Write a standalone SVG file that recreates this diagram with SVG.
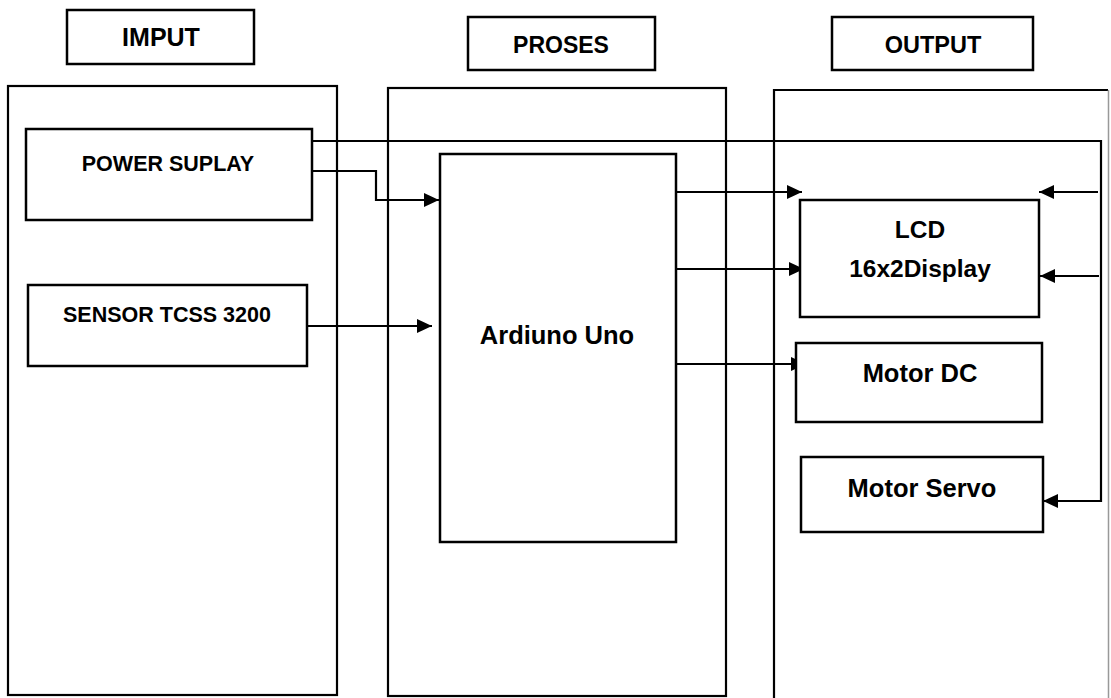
<svg xmlns="http://www.w3.org/2000/svg" width="1111" height="698" viewBox="0 0 1111 698">
<style>
.box{fill:#fff;stroke:#000;stroke-width:2.5}
.panel{fill:none;stroke:#000;stroke-width:2.2}
.ln{fill:none;stroke:#000;stroke-width:2.2}
.t{font-family:"Liberation Sans",Arial,sans-serif;font-weight:bold;fill:#000;text-anchor:middle}
</style>
<defs>
<marker id="ah" viewBox="0 0 15 14" refX="15" refY="7" markerWidth="15" markerHeight="14" markerUnits="userSpaceOnUse" orient="auto">
<path d="M0,0 L15,7 L0,14 Z" fill="#000"/>
</marker>
</defs>
<rect width="1111" height="698" fill="#fff"/>
<g id="panels">
<rect class="panel" x="8" y="86" width="329" height="609"/>
<rect class="panel" x="388" y="88" width="338" height="608"/>
<path class="panel" d="M774,698 V90 H1108"/>
<line x1="1108.5" y1="90" x2="1108.5" y2="698" stroke="#999" stroke-width="1.5"/>
</g>
<g id="hdr-imput">
<rect class="box" x="67" y="10" width="187" height="54"/>
<text class="t" x="161" y="46" font-size="25">IMPUT</text>
</g>
<g id="hdr-proses">
<rect class="box" x="468" y="17" width="187" height="53"/>
<text class="t" x="561" y="53" font-size="23">PROSES</text>
</g>
<g id="hdr-output">
<rect class="box" x="832" y="17" width="201" height="53"/>
<text class="t" x="933" y="53" font-size="23.5">OUTPUT</text>
</g>
<g id="connectors">
<polyline class="ln" points="312,171 376,171 376,200 439,200" marker-end="url(#ah)"/>
<polyline class="ln" points="312,141 1101,141 1101,501 1043,501" marker-end="url(#ah)"/>
<line class="ln" x1="307" y1="326" x2="432" y2="326" marker-end="url(#ah)"/>
<line class="ln" x1="672" y1="192" x2="802" y2="192" marker-end="url(#ah)"/>
<line class="ln" x1="676" y1="269" x2="804" y2="269" marker-end="url(#ah)"/>
<line class="ln" x1="676" y1="364" x2="806" y2="364" marker-end="url(#ah)"/>
<line class="ln" x1="1098" y1="192" x2="1039" y2="192" marker-end="url(#ah)"/>
<line class="ln" x1="1099" y1="276" x2="1040" y2="276" marker-end="url(#ah)"/>
</g>
<g id="power">
<rect class="box" x="26" y="129" width="286" height="91"/>
<text class="t" x="168" y="171" font-size="21.5">POWER SUPLAY</text>
</g>
<g id="sensor">
<rect class="box" x="28" y="285" width="279" height="81"/>
<text class="t" x="167" y="322" font-size="21.5">SENSOR TCSS 3200</text>
</g>
<g id="arduino">
<rect class="box" x="440" y="154" width="236" height="388"/>
<text class="t" x="557" y="344" font-size="25.5">Ardiuno Uno</text>
</g>
<g id="lcd">
<rect class="box" x="800" y="200" width="239" height="117"/>
<text class="t" x="920" y="238" font-size="24.5">LCD</text>
<text class="t" x="920" y="277" font-size="24.5">16x2Display</text>
</g>
<g id="motordc">
<rect class="box" x="796" y="343" width="246" height="79"/>
<text class="t" x="920" y="382" font-size="25.5">Motor DC</text>
</g>
<g id="motorservo">
<rect class="box" x="801" y="457" width="242" height="75"/>
<text class="t" x="922" y="497" font-size="25.5">Motor Servo</text>
</g>
</svg>
